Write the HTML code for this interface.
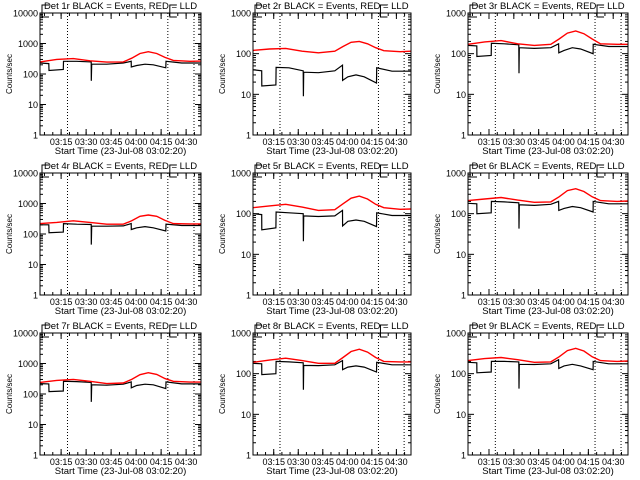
<!DOCTYPE html>
<html><head><meta charset="utf-8"><style>
html,body{margin:0;padding:0;background:#fff;}
svg{display:block;font-family:"Liberation Sans",sans-serif;}
</style></head><body>
<svg id="chart" width="640" height="480" viewBox="0 0 640 480" xmlns="http://www.w3.org/2000/svg"><rect width="640" height="480" fill="#fff"/></svg>
<script>
// time breakpoints (minutes after 03:02:20)
const blackTimes = [0,5.3,5.4,14,14.1,22,30.7,30.8,31,40,50,54.7,54.8,58,63,68,75.5,75.6,85,96.6];
const redTimes = [0,10,20,30,40,50,55,60,65,70,75,80,90,96.6];
const detNames = ["1r","2r","3r","4r","5r","6r","7r","8r","9r"];
const yMaxDecade = [4,3,3,4,3,3,4,3,3];
const black1 = [230,220,130,140,260,260,250,60,210,210,230,260,170,190,210,200,160,260,230,230];
const red1 = [250,300,320,270,245,250,330,470,540,470,350,280,260,265];
const black2 = [40,38,16,17,46,45,38,9,35,34,38,52,22,27,30,27,19,45,37,37];
const red2 = [120,130,135,115,105,115,150,190,200,175,140,118,112,115];
const black3 = [160,155,85,90,180,175,165,33,140,135,140,175,105,120,140,130,100,170,150,150];
const red3 = [170,195,210,175,160,170,230,320,360,310,230,175,170,170];
const black4 = [200,200,110,115,220,210,205,45,180,180,185,220,140,160,175,160,125,210,190,190];
const red4 = [220,240,270,240,210,210,270,380,420,380,280,220,215,215];
const black5 = [100,95,40,45,110,105,100,21,88,85,88,120,50,65,70,65,48,105,90,90];
const red5 = [140,155,170,145,120,125,175,240,270,230,170,140,128,130];
const black6 = [180,175,100,105,200,195,185,43,165,160,170,200,120,135,150,140,110,200,175,175];
const red6 = [210,230,250,215,190,195,260,370,410,350,260,210,200,205];
const black7 = [220,215,120,125,260,255,240,55,200,195,210,250,160,190,210,200,150,250,215,215];
const red7 = [240,280,300,260,220,230,300,430,500,440,320,260,245,245];
const black8 = [180,175,95,100,200,195,185,40,160,158,165,210,125,145,155,145,110,190,165,165];
const red8 = [190,215,240,210,180,180,250,350,400,340,250,200,195,195];
const black9 = [190,185,105,110,200,200,195,43,170,168,175,220,135,155,170,155,125,200,175,175];
const red9 = [210,235,250,220,190,195,260,370,420,360,260,210,200,205];
const blackSeries = [black1,black2,black3,black4,black5,black6,black7,black8,black9];
const redSeries = [red1,red2,red3,red4,red5,red6,red7,red8,red9];
const xTickTimes = [12.67,27.67,42.67,57.67,72.67,87.67];
const xTickLabels = ["03:15","03:30","03:45","04:00","04:15","04:30"];
const markerTimes = [16.5,76.7,92.4];
const tMax = 96.6;

const NS="http://www.w3.org/2000/svg";
const svg=document.getElementById('chart');
function mk(tag,attrs,parent){const e=document.createElementNS(NS,tag);for(const k in attrs)e.setAttribute(k,attrs[k]);(parent||svg).appendChild(e);return e;}
const colL=[40,253,468], colR=[201,411,628];
for(let p=0;p<9;p++){
  const c=p%3, r=Math.floor(p/3);
  const L=colL[c], R=colR[c], T=13+r*160, B=135+r*160;
  const nd=yMaxDecade[p];
  const g=mk('g',{});
  
  
  const xs=t=>L+(t/tMax)*(R-L);
  const ys=v=>B-(Math.log10(v)/nd)*(B-T);
  const ti=mk('text',{x:(L+R)/2,y:T-4,'text-anchor':'middle','font-size':'9.5'},g);
  ti.textContent='Det '+detNames[p]+' BLACK = Events, RED = LLD';
  
  
  const yt=mk('text',{x:0,y:0,'text-anchor':'middle','font-size':'8',transform:`translate(${L-28},${(T+B)/2}) rotate(-90)`},g);
  yt.textContent='Counts/sec';
  
  
  const xt=mk('text',{x:(L+R)/2,y:B+19,'text-anchor':'middle','font-size':'9.5'},g);
  xt.textContent='Start Time (23-Jul-08 03:02:20)';
  
  
  for(let d=0;d<=nd;d++){
    const y=ys(Math.pow(10,d));
    mk('line',{x1:L,x2:L+6,y1:y,y2:y,stroke:'#000'},g);
    mk('line',{x1:R,x2:R-6,y1:y,y2:y,stroke:'#000'},g);
    const tl=mk('text',{x:L-2,y:y+3.5,'text-anchor':'end','font-size':'9'},g);
    tl.textContent=String(Math.pow(10,d));
    
    
    if(d<nd){for(let m=2;m<=9;m++){const ym=ys(m*Math.pow(10,d));
      mk('line',{x1:L,x2:L+3,y1:ym,y2:ym,stroke:'#000'},g);
      mk('line',{x1:R,x2:R-3,y1:ym,y2:ym,stroke:'#000'},g);}}
  }
  for(let i=0;i<xTickTimes.length;i++){
    const x=xs(xTickTimes[i]);
    mk('line',{x1:x,x2:x,y1:B,y2:B-6,stroke:'#000'},g);
    mk('line',{x1:x,x2:x,y1:T,y2:T+6,stroke:'#000'},g);
    const xl=mk('text',{x:x,y:B+10,'text-anchor':'middle','font-size':'9'},g);
    xl.textContent=xTickLabels[i];
    
    
  }
  for(let t=2.67;t<tMax;t+=5){const x=xs(t);mk('line',{x1:x,x2:x,y1:B,y2:B-3,stroke:'#000'},g);mk('line',{x1:x,x2:x,y1:T,y2:T+3,stroke:'#000'},g);}
  for(const mt of markerTimes){const x=xs(mt);
    const dl=mk('line',{x1:x,x2:x,y1:T,y2:B,stroke:'#000','stroke-dasharray':'1,2'},g);
    
    }
  for(const bx of [L+2,xs(markerTimes[1])+2]){
    mk('path',{d:`M${bx+7},${T-8}H${bx}V${T+4}H${bx+7}`,fill:'none',stroke:'#000'},g);
  }
  const bs=blackSeries[p], rs=redSeries[p];
  const bl=mk('polyline',{points:blackTimes.map((t,i)=>xs(t).toFixed(1)+','+ys(bs[i]).toFixed(1)).join(' '),fill:'none',stroke:'#000','stroke-width':'1.2'},g);
  
  
  const rl=mk('polyline',{points:redTimes.map((t,i)=>xs(t).toFixed(1)+','+ys(rs[i]).toFixed(1)).join(' '),fill:'none',stroke:'#f00','stroke-width':'1.4'},g);
  
  
  const bx=mk('rect',{x:L,y:T,width:R-L,height:B-T,fill:'none',stroke:'#000'},g);
  
  
}
</script>
</body></html>
